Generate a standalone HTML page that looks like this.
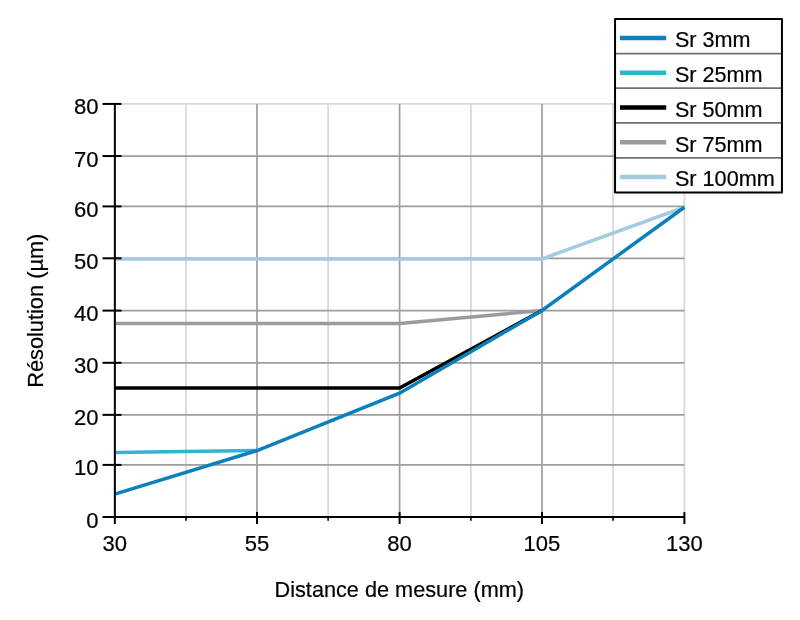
<!DOCTYPE html><html><head><meta charset="utf-8"><title>Chart</title><style>html,body{margin:0;padding:0;background:#fff;overflow:hidden}svg{display:block;position:absolute;left:0;top:0;will-change:transform}text{font-family:"Liberation Sans",sans-serif;fill:#000;stroke:#000;stroke-width:0.22px}</style></head><body>
<svg width="800" height="620" viewBox="0 0 800 620">
<rect width="800" height="620" fill="#fff"/>
<line x1="186.00" y1="103.04" x2="186.00" y2="517.10" stroke="#d8d8d8" stroke-width="1.7"/>
<line x1="328.10" y1="103.04" x2="328.10" y2="517.10" stroke="#d8d8d8" stroke-width="1.7"/>
<line x1="470.90" y1="103.04" x2="470.90" y2="517.10" stroke="#d8d8d8" stroke-width="1.7"/>
<line x1="613.00" y1="103.04" x2="613.00" y2="517.10" stroke="#d8d8d8" stroke-width="1.7"/>
<line x1="684.40" y1="103.04" x2="684.40" y2="517.10" stroke="#d8d8d8" stroke-width="1.7"/>
<line x1="114.75" y1="103.94" x2="685.30" y2="103.94" stroke="#d8d8d8" stroke-width="1.7"/>
<line x1="114.75" y1="464.90" x2="684.40" y2="464.90" stroke="#9e9e9e" stroke-width="1.7"/>
<line x1="114.75" y1="414.87" x2="684.40" y2="414.87" stroke="#9e9e9e" stroke-width="1.7"/>
<line x1="114.75" y1="362.80" x2="684.40" y2="362.80" stroke="#9e9e9e" stroke-width="1.7"/>
<line x1="114.75" y1="310.60" x2="684.40" y2="310.60" stroke="#9e9e9e" stroke-width="1.7"/>
<line x1="114.75" y1="258.30" x2="684.40" y2="258.30" stroke="#9e9e9e" stroke-width="1.7"/>
<line x1="114.75" y1="206.40" x2="684.40" y2="206.40" stroke="#9e9e9e" stroke-width="1.7"/>
<line x1="114.75" y1="156.05" x2="684.40" y2="156.05" stroke="#9e9e9e" stroke-width="1.7"/>
<line x1="257.00" y1="103.94" x2="257.00" y2="517.10" stroke="#9e9e9e" stroke-width="1.7"/>
<line x1="399.60" y1="103.94" x2="399.60" y2="517.10" stroke="#9e9e9e" stroke-width="1.7"/>
<line x1="542.00" y1="103.94" x2="542.00" y2="517.10" stroke="#9e9e9e" stroke-width="1.7"/>
<polyline points="114.75,258.88 541.99,258.88 684.40,207.23" fill="none" stroke="#a3cce0" stroke-width="3.5" stroke-linejoin="miter" stroke-linecap="butt"/>
<polyline points="114.75,323.43 399.57,323.43 541.99,310.52" fill="none" stroke="#9b9b9b" stroke-width="3.5" stroke-linejoin="miter" stroke-linecap="butt"/>
<polyline points="114.75,387.99 399.57,387.99 541.99,310.52" fill="none" stroke="#000000" stroke-width="3.5" stroke-linejoin="miter" stroke-linecap="butt"/>
<polyline points="114.75,452.54 257.16,450.58" fill="none" stroke="#2fb5cf" stroke-width="3.5" stroke-linejoin="miter" stroke-linecap="butt"/>
<polyline points="114.75,494.12 257.16,450.58 399.57,393.15 541.99,310.52 684.40,207.23" fill="none" stroke="#0b80bb" stroke-width="3.5" stroke-linejoin="miter" stroke-linecap="butt"/>
<line x1="114.85" y1="102.94" x2="114.85" y2="524.00" stroke="#000" stroke-width="2.0"/>
<line x1="102.50" y1="517.10" x2="684.80" y2="517.10" stroke="#000" stroke-width="2.0"/>
<line x1="102.50" y1="464.90" x2="121.50" y2="464.90" stroke="#000" stroke-width="2.0"/>
<line x1="102.50" y1="414.87" x2="121.50" y2="414.87" stroke="#000" stroke-width="2.0"/>
<line x1="102.50" y1="362.80" x2="121.50" y2="362.80" stroke="#000" stroke-width="2.0"/>
<line x1="102.50" y1="310.60" x2="121.50" y2="310.60" stroke="#000" stroke-width="2.0"/>
<line x1="102.50" y1="258.30" x2="121.50" y2="258.30" stroke="#000" stroke-width="2.0"/>
<line x1="102.50" y1="206.40" x2="121.50" y2="206.40" stroke="#000" stroke-width="2.0"/>
<line x1="102.50" y1="156.05" x2="121.50" y2="156.05" stroke="#000" stroke-width="2.0"/>
<line x1="102.50" y1="103.94" x2="121.50" y2="103.94" stroke="#000" stroke-width="2.0"/>
<line x1="257.00" y1="512.10" x2="257.00" y2="524.00" stroke="#000" stroke-width="2.0"/>
<line x1="399.60" y1="512.10" x2="399.60" y2="524.00" stroke="#000" stroke-width="2.0"/>
<line x1="542.00" y1="512.10" x2="542.00" y2="524.00" stroke="#000" stroke-width="2.0"/>
<line x1="684.40" y1="512.10" x2="684.40" y2="524.00" stroke="#000" stroke-width="2.0"/>
<line x1="186.00" y1="517.10" x2="186.00" y2="520.70" stroke="#000" stroke-width="1.6"/>
<line x1="328.10" y1="517.10" x2="328.10" y2="520.70" stroke="#000" stroke-width="1.6"/>
<line x1="470.90" y1="517.10" x2="470.90" y2="520.70" stroke="#000" stroke-width="1.6"/>
<line x1="613.00" y1="517.10" x2="613.00" y2="520.70" stroke="#000" stroke-width="1.6"/>
<text x="98.5" y="527.60" font-size="22.8" text-anchor="end" textLength="12.25" lengthAdjust="spacingAndGlyphs">0</text>
<text x="98.5" y="475.40" font-size="22.8" text-anchor="end" textLength="24.50" lengthAdjust="spacingAndGlyphs">10</text>
<text x="98.5" y="425.37" font-size="22.8" text-anchor="end" textLength="24.50" lengthAdjust="spacingAndGlyphs">20</text>
<text x="98.5" y="373.30" font-size="22.8" text-anchor="end" textLength="24.50" lengthAdjust="spacingAndGlyphs">30</text>
<text x="98.5" y="321.10" font-size="22.8" text-anchor="end" textLength="24.50" lengthAdjust="spacingAndGlyphs">40</text>
<text x="98.5" y="268.80" font-size="22.8" text-anchor="end" textLength="24.50" lengthAdjust="spacingAndGlyphs">50</text>
<text x="98.5" y="216.90" font-size="22.8" text-anchor="end" textLength="24.50" lengthAdjust="spacingAndGlyphs">60</text>
<text x="98.5" y="166.55" font-size="22.8" text-anchor="end" textLength="24.50" lengthAdjust="spacingAndGlyphs">70</text>
<text x="98.5" y="114.44" font-size="22.8" text-anchor="end" textLength="24.50" lengthAdjust="spacingAndGlyphs">80</text>
<text x="114.75" y="551.4" font-size="22.8" text-anchor="middle" textLength="24.50" lengthAdjust="spacingAndGlyphs">30</text>
<text x="256.90" y="551.4" font-size="22.8" text-anchor="middle" textLength="24.50" lengthAdjust="spacingAndGlyphs">55</text>
<text x="399.50" y="551.4" font-size="22.8" text-anchor="middle" textLength="24.50" lengthAdjust="spacingAndGlyphs">80</text>
<text x="541.90" y="551.4" font-size="22.8" text-anchor="middle" textLength="36.75" lengthAdjust="spacingAndGlyphs">105</text>
<text x="684.30" y="551.4" font-size="22.8" text-anchor="middle" textLength="36.75" lengthAdjust="spacingAndGlyphs">130</text>
<text x="399.3" y="597.4" font-size="22.8" text-anchor="middle" textLength="249.5" lengthAdjust="spacingAndGlyphs">Distance de mesure (mm)</text>
<text transform="translate(43.2,310.75) rotate(-90)" font-size="22.8" text-anchor="middle" textLength="154.2" lengthAdjust="spacingAndGlyphs">Résolution (µm)</text>
<rect x="615.05" y="18.9" width="166.9000000000001" height="173.7" fill="#fff"/>
<line x1="615.05" y1="53.67" x2="781.95" y2="53.67" stroke="#707070" stroke-width="1.7"/>
<line x1="615.05" y1="88.12" x2="781.95" y2="88.12" stroke="#707070" stroke-width="1.7"/>
<line x1="615.05" y1="122.94" x2="781.95" y2="122.94" stroke="#707070" stroke-width="1.7"/>
<line x1="615.05" y1="157.82" x2="781.95" y2="157.82" stroke="#707070" stroke-width="1.7"/>
<rect x="615.05" y="18.9" width="166.90" height="173.70" fill="none" stroke="#000" stroke-width="2.0" stroke-linejoin="round"/>
<line x1="620.00" y1="38.00" x2="666.20" y2="38.00" stroke="#0b80bb" stroke-width="4.4"/>
<text x="674.9" y="47.45" font-size="22.8" textLength="75.6" lengthAdjust="spacingAndGlyphs">Sr 3mm</text>
<line x1="620.00" y1="72.75" x2="666.20" y2="72.75" stroke="#2fb5cf" stroke-width="4.4"/>
<text x="674.9" y="82.16" font-size="22.8" textLength="87.7" lengthAdjust="spacingAndGlyphs">Sr 25mm</text>
<line x1="620.00" y1="107.50" x2="666.20" y2="107.50" stroke="#000000" stroke-width="4.4"/>
<text x="674.9" y="116.87" font-size="22.8" textLength="87.7" lengthAdjust="spacingAndGlyphs">Sr 50mm</text>
<line x1="620.00" y1="142.25" x2="666.20" y2="142.25" stroke="#9b9b9b" stroke-width="4.4"/>
<text x="674.9" y="151.58" font-size="22.8" textLength="87.7" lengthAdjust="spacingAndGlyphs">Sr 75mm</text>
<line x1="620.00" y1="177.00" x2="666.20" y2="177.00" stroke="#a3cce0" stroke-width="4.4"/>
<text x="674.9" y="186.29" font-size="22.8" textLength="99.9" lengthAdjust="spacingAndGlyphs">Sr 100mm</text>
</svg></body></html>
